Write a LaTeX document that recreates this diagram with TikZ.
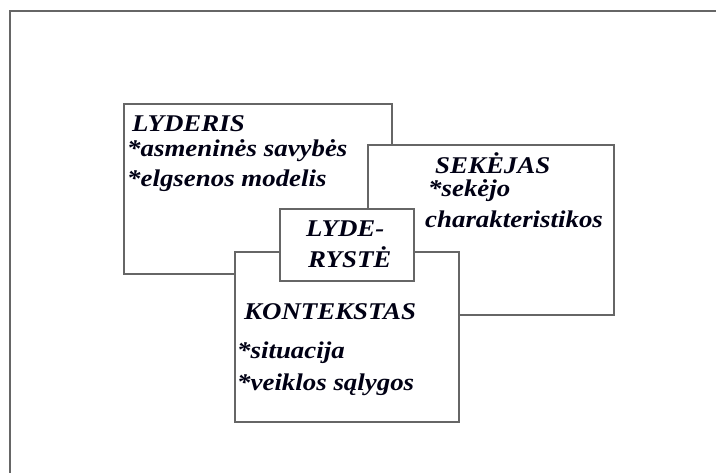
\documentclass[tikz,border=0pt]{standalone}
\usepackage{fontspec}
\setmainfont{Liberation Serif}[FakeStretch=1.12]
\begin{document}
\begin{tikzpicture}[x=1pt,y=-1pt,
  frame/.style={draw=black!60,line width=2pt},
  panel/.style={frame,fill=white,rectangle,inner sep=0pt,anchor=north west},
  label/.style={anchor=base west,inner sep=0pt,font=\fontsize{24}{28}\selectfont\bfseries\itshape,text=black!92!blue}]
\useasboundingbox (0,0) rectangle (716,473);
% outer frame, open to the right and bottom
\begin{scope}
\clip (0,0) rectangle (716,473);
\draw[frame] (10,490) -- (10,11) -- (730,11);
\end{scope}
% leader panel
\node[panel,minimum width=268pt,minimum height=170pt] (lead) at (123,103) {};
\node[label] (leadT) at (132,132) {LYDERIS};
\node[label] (leadA) at (127,157) {*asmeninės savybės};
\node[label] (leadB) at (127,187) {*elgsenos modelis};
% follower panel
\node[panel,minimum width=246pt,minimum height=170pt] (foll) at (367,144) {};
\node[label] (follT) at (435,174) {SEKĖJAS};
\node[label] (follA) at (428,197) {*sekėjo};
\node[label] (follB) at (425,228) {charakteristikos};
% context panel
\node[panel,minimum width=224pt,minimum height=170pt] (ctx) at (234,251) {};
\node[label] (ctxT) at (244,320) {KONTEKSTAS};
\node[label] (ctxA) at (237,359) {*situacija};
\node[label] (ctxB) at (237,391) {*veiklos sąlygos};
% leadership label box on top
\node[panel,minimum width=134pt,minimum height=72pt] (core) at (279,208) {};
\node[label] (coreA) at (306,237) {LYDE-};
\node[label] (coreB) at (308,268) {RYSTĖ};
\end{tikzpicture}
\end{document}
